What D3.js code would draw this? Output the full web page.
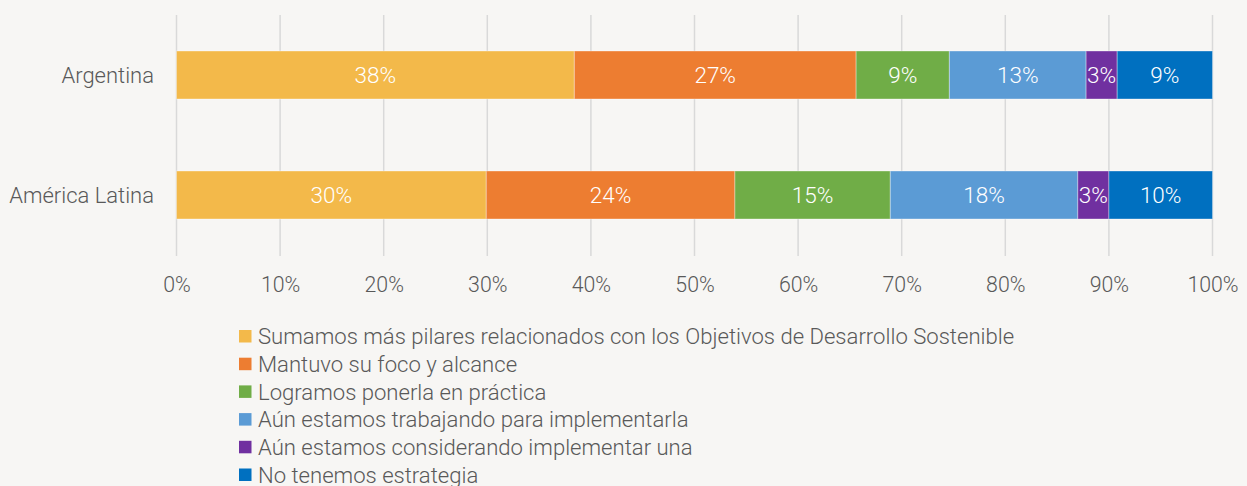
<!DOCTYPE html>
<html>
<head>
<meta charset="utf-8">
<script src="https://cdn.jsdelivr.net/npm/d3@7"></script>
<style>
  body { margin: 0; background: #f7f6f4; }
  svg { display: block; font-family: "Roboto", sans-serif; font-weight: 300; }
</style>
</head>
<body>
<div id="chart"></div>
<script>
// datos
var categories = ["Argentina", "América Latina"];
var series = [
  "Sumamos más pilares relacionados con los Objetivos de Desarrollo Sostenible",
  "Mantuvo su foco y alcance",
  "Logramos ponerla en práctica",
  "Aún estamos trabajando para implementarla",
  "Aún estamos considerando implementar una",
  "No tenemos estrategia"
];
var argentina = [38.4, 27.2, 9.0, 13.2, 3.0, 9.2];
var latam = [29.9, 24.0, 15.0, 18.1, 3.0, 10.0];
var labelsArg = ["38%", "27%", "9%", "13%", "3%", "9%"];
var labelsLat = ["30%", "24%", "15%", "18%", "3%", "10%"];
var ticks = [0, 10, 20, 30, 40, 50, 60, 70, 80, 90, 100];
var colors = ["#f3b94a", "#ed7d31", "#70ad47", "#5b9bd5", "#7030a0", "#0070c0"];

var width = 1247, height = 486;

var svg = d3.select("#chart")
    .append("svg")
    .attr("width", width)
    .attr("height", height);

var x = d3.scaleLinear()
    .domain([0, 100])
    .range([176.5, 1212.5]);

var y = d3.scaleBand()
    .domain(categories)
    .range([15, 255])
    .paddingInner(0.6)
    .paddingOuter(0.3);

// lineas de grilla
svg.append("g")
    .selectAll("line")
    .data(ticks)
    .join("line")
    .attr("x1", d => x(d))
    .attr("x2", d => x(d))
    .attr("y1", 15)
    .attr("y2", 256)
    .style("stroke", "#d9d9d9")
    .style("stroke-width", "1.5px");

// apilar
var rows = [
  {cat: categories[0], vals: argentina, labels: labelsArg},
  {cat: categories[1], vals: latam, labels: labelsLat}
];
rows.forEach(function(r){
  var acc = 0;
  r.segs = r.vals.map(function(v, i){
    var s = {x0: acc, x1: acc + v, i: i, label: r.labels[i], cat: r.cat};
    acc += v;
    return s;
  });
});

var g = svg.append("g");
rows.forEach(function(r){
  g.selectAll(null)
    .data(r.segs)
    .join("rect")
    .attr("x", d => x(d.x0))
    .attr("width", d => x(d.x1) - x(d.x0))
    .attr("y", y(r.cat))
    .attr("height", y.bandwidth())
    .style("fill", d => colors[d.i])
    .style("stroke", "rgba(255,255,255,0.35)")
    .style("stroke-width", "1px");

  g.selectAll(null)
    .data(r.segs)
    .join("text")
    .attr("x", d => (x(d.x0) + x(d.x1)) / 2)
    .attr("y", y(r.cat) + y.bandwidth() / 2)
    .attr("dy", "0.35em")
    .attr("text-anchor", "middle")
    .style("fill", "#ffffff")
    .style("font-size", "22.5px")
    .text(d => d.label);
});

// categorias
svg.append("g")
    .selectAll("text")
    .data(categories)
    .join("text")
    .attr("x", 154)
    .attr("y", d => y(d) + y.bandwidth() / 2)
    .attr("dy", "0.35em")
    .attr("text-anchor", "end")
    .style("fill", "#595959")
    .style("font-size", "22px")
    .text(d => d);

// eje x
var xAxis = svg.append("g")
    .attr("transform", "translate(0,256)")
    .call(d3.axisBottom(x).tickValues(ticks).tickSize(0).tickPadding(21).tickFormat(d => d + "%"));
xAxis.select(".domain").remove();
xAxis.selectAll("text")
    .style("fill", "#595959")
    .style("font-size", "21.3px")
    .style("font-family", "Roboto, sans-serif")
    .style("font-weight", 300);

// leyenda
var legend = svg.append("g")
    .selectAll("g")
    .data(series)
    .join("g")
    .attr("transform", (d, i) => "translate(239," + (330 + i * 27.7) + ")");
legend.append("rect")
    .attr("width", 12.5)
    .attr("height", 12.5)
    .style("fill", (d, i) => colors[i]);
legend.append("text")
    .attr("x", 19)
    .attr("y", 6.5)
    .attr("dy", "0.35em")
    .style("fill", "#595959")
    .style("font-size", "22.1px")
    .text(d => d);
</script>
</body>
</html>
